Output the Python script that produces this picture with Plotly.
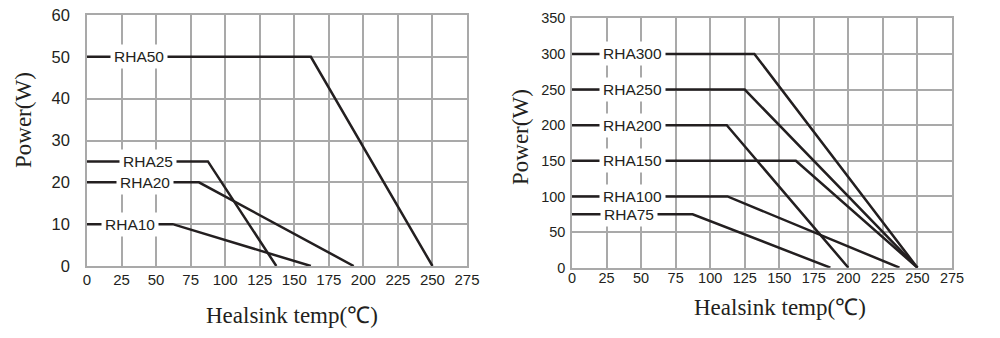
import plotly.graph_objects as go

# ---- data: left chart (small resistors) ----
left_names = ["RHA50", "RHA25", "RHA20", "RHA10"]
left_x = [[0, 162, 250], [0, 87.5, 137], [0, 81, 193], [0, 62, 162]]
left_y = [[50, 50, 0], [25, 25, 0], [20, 20, 0], [10, 10, 0]]
left_label_x = [37.5, 43.8, 42.3, 31]
left_label_y = [50, 25, 20, 10]

# ---- data: right chart (large resistors) ----
right_names = ["RHA300", "RHA250", "RHA200", "RHA150", "RHA100", "RHA75"]
right_x = [[0, 132, 250], [0, 125, 250], [0, 112, 200], [0, 162, 250], [0, 112.5, 237], [0, 87.3, 187]]
right_y = [[300, 300, 0], [250, 250, 0], [200, 200, 0], [150, 150, 0], [100, 100, 0], [75, 75, 0]]
right_label_x = [44.1, 44.1, 44.1, 44.1, 44.1, 40.9]
right_label_y = [300, 250, 200, 150, 100, 75]

x_ticks = [0, 25, 50, 75, 100, 125, 150, 175, 200, 225, 250, 275]
left_y_ticks = [0, 10, 20, 30, 40, 50, 60]
right_y_ticks = [0, 50, 100, 150, 200, 250, 300, 350]

x_title = "Healsink temp(℃)"
y_title = "Power(W)"

LINE = "#231f20"
GRID = "#a9a9a9"
SANS = "Liberation Sans, Arial, sans-serif"
SERIF = "Liberation Serif, Times New Roman, serif"

fig = go.Figure()

for n, xs, ys in zip(left_names, left_x, left_y):
    fig.add_trace(go.Scatter(x=xs, y=ys, mode="lines", name=n, xaxis="x", yaxis="y",
                             line=dict(color=LINE, width=2.5), cliponaxis=False, showlegend=False))
for n, xs, ys in zip(right_names, right_x, right_y):
    fig.add_trace(go.Scatter(x=xs, y=ys, mode="lines", name=n, xaxis="x2", yaxis="y2",
                             line=dict(color=LINE, width=2.5), cliponaxis=False, showlegend=False))

annotations = []
for n, lx, ly in zip(left_names, left_label_x, left_label_y):
    annotations.append(dict(x=lx, y=ly, xref="x", yref="y", text=n, showarrow=False,
                            bgcolor="white", borderpad=3,
                            font=dict(family=SANS, size=15.5, color=LINE)))
for n, lx, ly in zip(right_names, right_label_x, right_label_y):
    annotations.append(dict(x=lx, y=ly, xref="x2", yref="y2", text=n, showarrow=False,
                            bgcolor="white", borderpad=3,
                            font=dict(family=SANS, size=15.5, color=LINE)))

title_font = dict(family=SERIF, size=23, color=LINE)
annotations += [
    dict(x=0.023, y=1 - 120 / 338, xref="paper", yref="paper", text=y_title, textangle=-90,
         xanchor="center", yanchor="middle", showarrow=False, font=title_font),
    dict(x=0.520, y=1 - 137 / 338, xref="paper", yref="paper", text=y_title, textangle=-90,
         xanchor="center", yanchor="middle", showarrow=False, font=title_font),
    dict(x=0.2915, y=1 - 315 / 338, xref="paper", yref="paper", text=x_title,
         xanchor="center", yanchor="middle", showarrow=False, font=title_font),
    dict(x=0.780, y=1 - 307 / 338, xref="paper", yref="paper", text=x_title,
         xanchor="center", yanchor="middle", showarrow=False, font=title_font),
]

common_axis = dict(showgrid=True, gridcolor=GRID, gridwidth=1.5, showline=True, linecolor=GRID,
                   linewidth=1.5, mirror=True, zeroline=False, ticks="", fixedrange=True,
                   automargin=False)

fig.update_layout(
    width=1000, height=338,
    margin=dict(l=0, r=0, t=0, b=0, pad=0),
    paper_bgcolor="white", plot_bgcolor="white",
    showlegend=False,
    xaxis=dict(domain=[0.087, 0.467], range=[0, 275], tickvals=x_ticks, anchor="y",
               tickfont=dict(family=SANS, size=15, color=LINE), ticklabelstandoff=-1, **common_axis),
    yaxis=dict(domain=[1 - 266 / 338, 1 - 15 / 338], range=[0, 60], tickvals=left_y_ticks, anchor="x",
               tickfont=dict(family=SANS, size=16.5, color=LINE), ticklabelstandoff=12, **common_axis),
    xaxis2=dict(domain=[0.572, 0.952], range=[0, 275], tickvals=x_ticks, anchor="y2",
                tickfont=dict(family=SANS, size=14.5, color=LINE), ticklabelstandoff=-4, **common_axis),
    yaxis2=dict(domain=[1 - 267.7 / 338, 1 - 18.3 / 338], range=[0, 350], tickvals=right_y_ticks, anchor="x2",
                tickfont=dict(family=SANS, size=14.5, color=LINE), ticklabelstandoff=2, **common_axis),
    annotations=annotations,
)

fig.write_html("out.html")
